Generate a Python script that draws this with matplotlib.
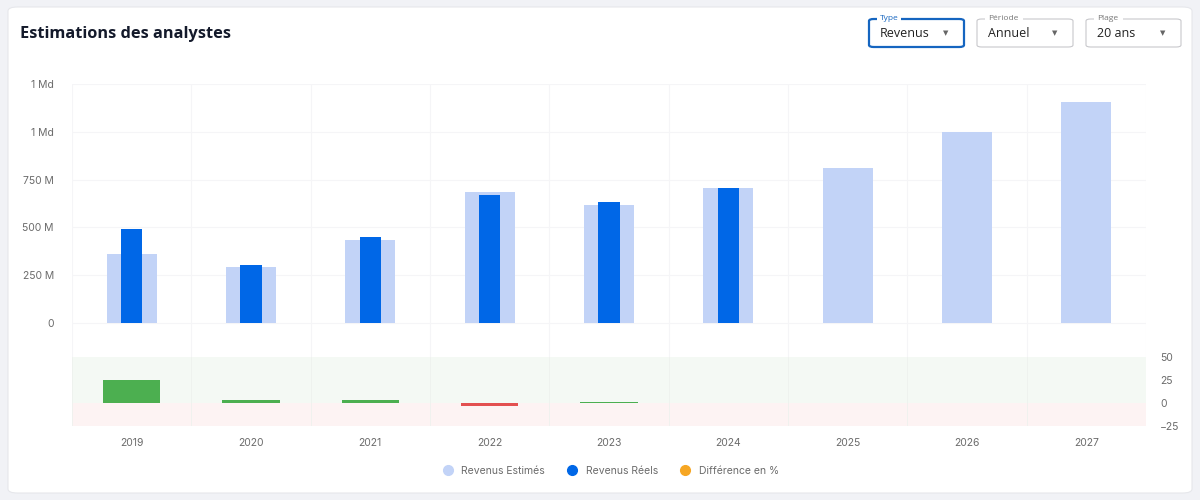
import matplotlib
matplotlib.use("Agg")
import matplotlib.pyplot as plt
from matplotlib.patches import FancyBboxPatch, Rectangle
from matplotlib.lines import Line2D

# data (millions)
years = ["2019", "2020", "2021", "2022", "2023", "2024", "2025", "2026", "2027"]
estimes = [361, 293, 434, 686, 618, 707, 812, 1000, 1157]
reels = [492, 304, 450, 670, 634, 707]
diff_pct = [25, 3, 3, -3, 1, 0]
y_ticks = [0, 250, 500, 750, 1000, 1250]
y_labels = ["0", "250 M", "500 M", "750 M", "1 Md", "1 Md"]
diff_ticks = [-25, 0, 25, 50]

c_est = "#c2d3f7"
c_reel = "#0067e7"
c_pos = "#4caf50"
c_neg = "#e35050"
c_orange = "#f6a623"
grid_c = "#f5f5f7"
tick_c = "#6b6b6b"

plt.rcParams["font.family"] = ["Inter", "DejaVu Sans"]

fig = plt.figure(figsize=(12, 5), dpi=100)
fig.patch.set_facecolor("#f1f2f6")

# white card
card = FancyBboxPatch((8 / 1200, 7 / 500), 1184 / 1200, 486 / 500,
                      boxstyle="round,pad=0,rounding_size=0.008",
                      transform=fig.transFigure, facecolor="white",
                      edgecolor="#e6e7eb", linewidth=0.8, zorder=-1)
fig.patches.append(card)

fig.text(20 / 1200, 1 - 33.5 / 500, "Estimations des analystes", fontsize=11.8,
         fontweight="bold", color="#141a2b", va="center", ha="left",
         family=["Open Sans", "DejaVu Sans"])

# dropdowns
def dropdown(x0, x1, label, value, active=False):
    y0, y1 = 19, 47
    ec = "#1565c0" if active else "#c8c8cc"
    box = FancyBboxPatch((x0 / 1200, 1 - y1 / 500), (x1 - x0) / 1200, (y1 - y0) / 500,
                         boxstyle="round,pad=0,rounding_size=0.004",
                         transform=fig.transFigure, facecolor="white",
                         edgecolor=ec, linewidth=1.6 if active else 0.8, zorder=2)
    fig.patches.append(box)
    lw = len(label) * 4.6 + 6
    fig.patches.append(Rectangle(((x0 + 8) / 1200, 1 - 21 / 500), lw / 1200, 5 / 500,
                                 transform=fig.transFigure, facecolor="white",
                                 edgecolor="none", zorder=3))
    fig.text((x0 + 11) / 1200, 1 - 18 / 500, label, fontsize=6,
             color="#1565c0" if active else "#777777", va="center", ha="left",
             family=["Open Sans", "DejaVu Sans"], zorder=4)
    fig.text((x0 + 11) / 1200, 1 - 33 / 500, value, fontsize=9, color="#222222",
             va="center", ha="left", family=["Open Sans", "DejaVu Sans"], zorder=4)
    fig.text((x1 - 18) / 1200, 1 - 33 / 500, "\u25bc", fontsize=5, color="#666666",
             va="center", ha="center", family=["DejaVu Sans"], zorder=4)

dropdown(869, 964, "Type", "Revenus", active=True)
dropdown(977, 1073, "Période", "Annuel")
dropdown(1086, 1181, "Plage", "20 ans")

x = list(range(len(years)))

# main axes
ax = fig.add_axes([72 / 1200, 1 - 357 / 500, 1074 / 1200, (357 - 84) / 500])
ax.set_facecolor("none")
ax.bar(x, estimes, width=0.42, color=c_est, zorder=2)
ax.bar(x[:len(reels)], reels, width=0.18, color=c_reel, zorder=3)
ax.set_xlim(-0.5, len(years) - 0.5)
ax.set_ylim(-178, 1250)
ax.set_yticks(y_ticks)
ax.set_yticklabels(y_labels)
ax.set_xticks([i + 0.5 for i in range(-1, len(years))], minor=True)
ax.set_xticks([])
ax.grid(True, which="minor", axis="x", color=grid_c, linewidth=0.8, zorder=0)
ax.grid(True, which="major", axis="y", color=grid_c, linewidth=0.8, zorder=0)
ax.tick_params(axis="y", length=0, pad=13, labelsize=7.5, labelcolor=tick_c)
ax.tick_params(axis="x", which="both", length=0)
for s in ax.spines.values():
    s.set_visible(False)

# difference axes
ax2 = fig.add_axes([72 / 1200, 1 - 426 / 500, 1074 / 1200, 69 / 500])
ax2.set_facecolor("none")
ax2.axhspan(0, 50, color="#f4f9f4", zorder=0, linewidth=0)
ax2.axhspan(-25, 0, color="#fdf3f3", zorder=0, linewidth=0)
cols = [c_pos if d >= 0 else c_neg for d in diff_pct]
ax2.bar(x[:len(diff_pct)], diff_pct, width=0.48, color=cols, zorder=3)
ax2.set_xlim(-0.5, len(years) - 0.5)
ax2.set_ylim(-25, 50)
ax2.set_xticks([i + 0.5 for i in range(-1, len(years))], minor=True)
ax2.grid(True, which="minor", axis="x", color="#eef1ee", linewidth=0.6, zorder=1)
ax2.set_xticks(x)
ax2.set_xticklabels(years)
ax2.yaxis.tick_right()
ax2.set_yticks(diff_ticks)
ax2.tick_params(axis="y", length=0, pad=10, labelsize=7.5, labelcolor=tick_c)
ax2.tick_params(axis="x", which="both", length=0, pad=9, labelsize=7.5, labelcolor=tick_c)
for s in ax2.spines.values():
    s.set_visible(False)

handles = [Line2D([], [], marker="o", linestyle="none", markersize=7, color=c)
           for c in (c_est, c_reel, c_orange)]
fig.legend(handles, ["Revenus Estimés", "Revenus Réels", "Différence en %"],
           loc="center", bbox_to_anchor=(608 / 1200, 1 - 471 / 500), ncol=3,
           frameon=False, fontsize=7.5, labelcolor=tick_c, handletextpad=0.3,
           columnspacing=1.6)

fig.savefig("out.png", dpi=100, facecolor=fig.get_facecolor())
